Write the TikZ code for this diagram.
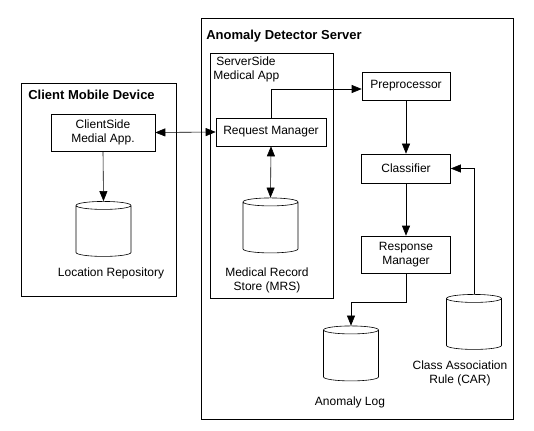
\documentclass[tikz,border=0pt]{standalone}
\usepackage{fontspec}
\setmainfont{Liberation Sans}
\usetikzlibrary{arrows.meta,shapes.geometric}

\begin{document}
\begin{tikzpicture}[x=1pt, y=-1pt, line width=0.6pt,
    >={Triangle[length=10pt, width=8pt]},
    box/.style={draw, inner sep=0pt, align=center, font=\fontsize{12}{14.5}\selectfont},
    store/.style={draw, cylinder, shape border rotate=90, aspect=0.2, inner xsep=20pt, inner ysep=22pt,
      minimum width=55pt, minimum height=55pt},
    caption/.style={align=center, inner sep=0pt, font=\fontsize{12}{14}\selectfont},
    heading/.style={anchor=west, inner sep=0pt, font=\fontsize{13}{15}\selectfont\bfseries}]
  \useasboundingbox (0, 0) rectangle (534, 430);
  % Draw device boxes
  \draw (21, 83) rectangle (176, 296);
  \draw (201, 18) rectangle (513, 419);
  \draw (210, 53) rectangle (333, 298);
  % Add box titles
  \node[heading] (clienttitle) at (28, 95) {Client Mobile Device};
  \node[heading] (servertitle) at (206, 36) {Anomaly Detector Server};
  \node[caption, align=left, anchor=north west] (srvapptitle) at (213, 57) {\hspace*{3pt}ServerSide\\Medical App};
  % Draw processing boxes
  \node[box, minimum width=104pt, minimum height=37pt] (clientapp) at (103, 132.5) {ClientSide\\Medial App.};
  \node[box, minimum width=110pt, minimum height=28pt] (reqmgr) at (271, 132) {Request Manager};
  \node[box, minimum width=88pt, minimum height=28pt] (prep) at (406, 86) {Preprocessor};
  \node[box, minimum width=89pt, minimum height=29pt] (classif) at (406, 168.5) {Classifier};
  \node[box, minimum width=89pt, minimum height=37pt] (respmgr) at (406, 254.5) {Response\\Manager};
  % Draw stores
  \node[store] (locrepo) at (103.5, 233) {};
  \node[store] (mrs) at (270.5, 229.5) {};
  \node[store] (anolog) at (351, 357.5) {};
  \node[store] (car) at (474, 326) {};
  % Add store labels
  \node[caption] (locrepolabel) at (111, 273) {Location Repository};
  \node[caption] (mrslabel) at (267, 280) {Medical Record\\Store (MRS)};
  \node[caption] (anologlabel) at (350, 402) {Anomaly Log};
  \node[caption] (carlabel) at (460, 373) {Class Association\\Rule (CAR)};
  % Draw connectors
  \draw[<->] (clientapp.east) -- (reqmgr.west);
  \draw[->] (clientapp.south) -- (locrepo.north);
  \draw[<->] (reqmgr.south) -- (mrs.north);
  \draw[->] (reqmgr.north) |- ([yshift=-3pt]prep.west);
  \draw[->] (prep.south) -- (classif.north);
  \draw[->] (classif.south) -- (respmgr.north);
  \coordinate (logbend) at (406, 302);
  \draw[->] (respmgr.south) -- (logbend) -| (anolog.north);
  \draw[->] (car.north) |- (classif.east);
\end{tikzpicture}
\end{document}
